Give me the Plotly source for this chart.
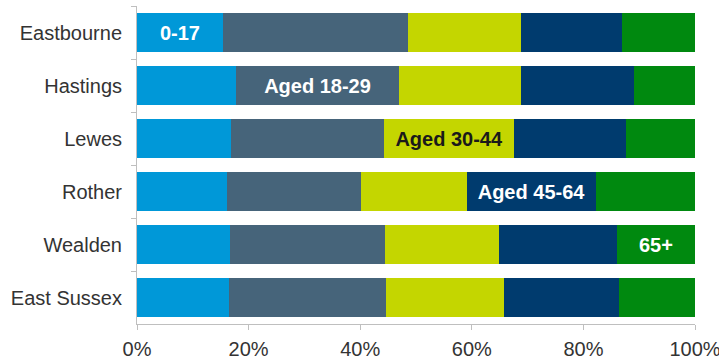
import plotly.graph_objects as go

districts = ["Eastbourne", "Hastings", "Lewes", "Rother", "Wealden", "East Sussex"]
age_groups = ["0-17", "Aged 18-29", "Aged 30-44", "Aged 45-64", "65+"]

# percentage share per age group, one list per age group (order matches districts)
share_0_17 = [15.4, 17.7, 16.8, 16.2, 16.7, 16.4]
share_18_29 = [33.1, 29.3, 27.5, 23.9, 27.7, 28.3]
share_30_44 = [20.4, 21.9, 23.3, 19.0, 20.4, 21.1]
share_45_64 = [18.1, 20.2, 20.0, 23.2, 21.2, 20.5]
share_65_plus = [13.0, 10.9, 12.4, 17.7, 14.0, 13.7]

# which district bar carries each age-group label
label_district = ["Eastbourne", "Hastings", "Lewes", "Rother", "Wealden"]

x_ticks = [0, 20, 40, 60, 80, 100]
x_tick_labels = ["0%", "20%", "40%", "60%", "80%", "100%"]

series = [share_0_17, share_18_29, share_30_44, share_45_64, share_65_plus]
colors = ["#0098d8", "#46647a", "#c4d600", "#003b6e", "#00890f"]
text_colors = ["#ffffff", "#ffffff", "#1a1a1a", "#ffffff", "#ffffff"]

fig = go.Figure()
for name, vals, col, tcol, lab_d in zip(age_groups, series, colors, text_colors, label_district):
    texts = [name if d == lab_d else "" for d in districts]
    fig.add_trace(go.Bar(
        y=districts, x=vals, name=name, orientation="h",
        marker=dict(color=col, line=dict(width=0)),
        text=texts, textposition="inside", insidetextanchor="middle",
        textangle=0, constraintext="none",
        textfont=dict(family="Liberation Sans, Arial, sans-serif", size=20, color=tcol,
                      weight="bold"),
        hoverinfo="x+y+name",
    ))

fig.update_layout(
    barmode="stack",
    bargap=0.28,
    width=719, height=361,
    margin=dict(l=137, r=24, t=6, b=37),
    paper_bgcolor="white", plot_bgcolor="white",
    showlegend=False,
    font=dict(family="Liberation Sans, Arial, sans-serif", size=20, color="#333333"),
    xaxis=dict(
        range=[0, 100], tickvals=x_ticks, ticktext=x_tick_labels,
        automargin=False, ticklabeloverflow="allow",
        showgrid=False, zeroline=False,
        showline=True, linecolor="#bfbfbf", linewidth=1,
        ticks="outside", ticklen=5, tickcolor="#bfbfbf",
        ticklabelstandoff=2,
        tickfont=dict(size=20, color="#333333"),
    ),
    yaxis=dict(
        categoryorder="array", categoryarray=districts, autorange="reversed",
        automargin=False,
        showgrid=False, zeroline=False,
        showline=True, linecolor="#bfbfbf", linewidth=1,
        ticks="outside", ticklen=5, tickcolor="#bfbfbf", tickson="boundaries",
        ticklabelstandoff=10,
        tickfont=dict(size=20, color="#333333"),
    ),
)

fig.write_html("out.html",
               config={"displayModeBar": False},
               post_script="document.body.style.margin='0';document.body.style.overflow='hidden';")
